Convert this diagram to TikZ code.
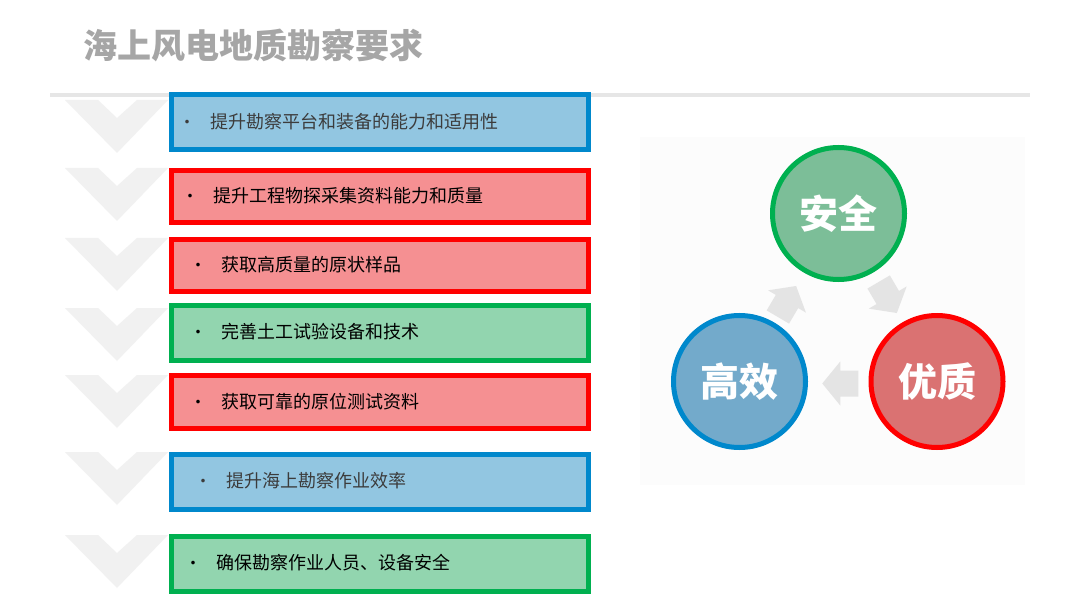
\documentclass[tikz,border=0pt]{standalone}
\usepackage{fontspec}
\setmainfont{Noto Sans CJK SC}
\usetikzlibrary{calc}
\definecolor{chevcol}{HTML}{F1F1F1}
\definecolor{rulecol}{HTML}{E6E6E6}
\definecolor{titlecol}{HTML}{A6A6A6}
\definecolor{bluebd}{HTML}{0088CC}
\definecolor{bluefl}{HTML}{92C6E1}
\definecolor{redbd}{HTML}{FF0000}
\definecolor{redfl}{HTML}{F59092}
\definecolor{greenbd}{HTML}{00B050}
\definecolor{greenfl}{HTML}{92D5AF}
\definecolor{cgreen}{HTML}{7CBE98}
\definecolor{cblue}{HTML}{73AACB}
\definecolor{cred}{HTML}{DA7272}
\definecolor{arrcol}{HTML}{E4E4E4}
\definecolor{panelcol}{HTML}{FCFCFC}
\definecolor{darktext}{HTML}{3C3C3C}
\newcommand{\bul}{\makebox[0pt]{\fontsize{17}{17}\selectfont •}\hspace{23pt}}
\begin{document}
\begin{tikzpicture}[x=1pt,y=-1pt,
  itembox/.style={rectangle,line width=5pt,minimum width=417pt,inner sep=0pt,outer sep=0pt},
  bluebox/.style={itembox,draw=bluebd,fill=bluefl},
  redbox/.style={itembox,draw=redbd,fill=redfl},
  greenbox/.style={itembox,draw=greenbd,fill=greenfl},
  itemtext/.style={anchor=west,inner sep=0pt,font=\fontsize{18}{20}\selectfont},
  ball/.style={circle,line width=5pt,minimum size=132pt,inner sep=0pt,text=white,font=\fontsize{39}{40}\selectfont\bfseries},
  chev/.pic={\fill[chevcol] (0,0) -- (33,0) -- (52,18) -- (72,0) -- (103,0) -- (52,53) -- cycle;},
  barrow/.pic={\fill[arrcol] (-18,-13) -- (0,-13) -- (0,-22) -- (18,0) -- (0,22) -- (0,13) -- (-18,13) -- cycle;}
]
\useasboundingbox[fill=white] (0,0) rectangle (1080,607);
% title
\node[anchor=west,inner sep=0pt,text=titlecol,font=\fontsize{34}{36}\selectfont\bfseries] (title) at (83,45) {海上风电地质勘察要求};
% rule
\fill[rulecol] (50,93) rectangle (1030,97);
% chevrons
\foreach \t in {100,168,238,308,375,452,535} {\pic at (65,\t) {chev};}
% boxes
\node[bluebox,minimum height=55pt] (b1) at (380,122) {};
\node[redbox,minimum height=52pt] (b2) at (380,196.5) {};
\node[redbox,minimum height=52pt] (b3) at (380,265.5) {};
\node[greenbox,minimum height=55pt] (b4) at (380,333) {};
\node[redbox,minimum height=53pt] (b5) at (380,402) {};
\node[bluebox,minimum height=55pt] (b6) at (380,482) {};
\node[greenbox,minimum height=55pt] (b7) at (380,564) {};
% texts
\node[itemtext,text=darktext] (t1) at (187,122) {\bul 提升勘察平台和装备的能力和适用性};
\node[itemtext,text=black] (t2) at (190,196) {\bul 提升工程物探采集资料能力和质量};
\node[itemtext,text=black] (t3) at (198,265) {\bul 获取高质量的原状样品};
\node[itemtext,text=black] (t4) at (198,332) {\bul 完善土工试验设备和技术};
\node[itemtext,text=black] (t5) at (198,402) {\bul 获取可靠的原位测试资料};
\node[itemtext,text=darktext] (t6) at (203,481) {\bul 提升海上勘察作业效率};
\node[itemtext,text=black] (t7) at (193,563) {\bul 确保勘察作业人员、设备安全};
% panel
\fill[panelcol] (640,137) rectangle (1025,485);
% circles
\node[ball,draw=greenbd,fill=cgreen] (aq) at (838.5,213.5) {安全};
\node[ball,draw=bluebd,fill=cblue] (gx) at (739.5,381.5) {高效};
\node[ball,draw=redbd,fill=cred] (yz) at (937,381.5) {优质};
% block arrows
\pic[rotate=-59.6] (a1) at ($(aq)!0.5!(yz)$) {barrow};
\pic[rotate=180] (a2) at ($(yz)!0.5!(gx)+(2,2)$) {barrow};
\pic[rotate=59.5] (a3) at ($(gx)!0.5!(aq)+(-2,4)$) {barrow};
\end{tikzpicture}
\end{document}
